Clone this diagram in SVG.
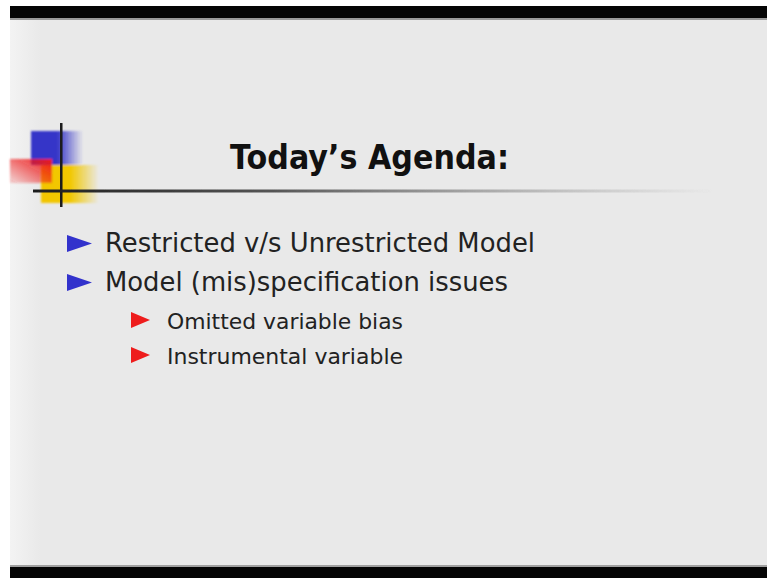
<svg xmlns="http://www.w3.org/2000/svg" width="767" height="578" viewBox="0 0 767 578">
  <style>
    .title { font-family: "DejaVu Sans", Verdana, sans-serif; font-weight: bold; fill: #111; }
    .l1 { font-family: "DejaVu Sans", Verdana, sans-serif; font-size: 26px; fill: #222; }
    .l2 { font-family: "DejaVu Sans", Verdana, sans-serif; font-size: 22px; fill: #222; }
    .b1 { fill: #3232cc; }
    .b2 { fill: #ee1c1c; }
  </style>
  <defs>
    <linearGradient id="blueFade" x1="0" y1="0" x2="1" y2="0">
      <stop offset="0" stop-color="#3434c8"/>
      <stop offset="0.5" stop-color="#3434c8"/>
      <stop offset="1" stop-color="#3434c8" stop-opacity="0"/>
    </linearGradient>
    <linearGradient id="yellowFade" x1="0" y1="0" x2="1" y2="0">
      <stop offset="0" stop-color="#f2c500"/>
      <stop offset="0.5" stop-color="#f2c800"/>
      <stop offset="1" stop-color="#f2c800" stop-opacity="0"/>
    </linearGradient>
    <linearGradient id="redFade" x1="1" y1="0" x2="0" y2="1">
      <stop offset="0" stop-color="#f01818"/>
      <stop offset="1" stop-color="#f01818" stop-opacity="0.15"/>
    </linearGradient>
    <linearGradient id="ruleFade" x1="0" y1="0" x2="1" y2="0">
      <stop offset="0" stop-color="#1e1e1e"/>
      <stop offset="0.35" stop-color="#555"/>
      <stop offset="1" stop-color="#888" stop-opacity="0"/>
    </linearGradient>
    <linearGradient id="edge" x1="0" y1="0" x2="1" y2="0">
      <stop offset="0" stop-color="#f3f3f3"/>
      <stop offset="1" stop-color="#e9e9e9"/>
    </linearGradient>
    <filter id="soft" x="-20%" y="-20%" width="140%" height="140%">
      <feGaussianBlur stdDeviation="1.2"/>
    </filter>
    <filter id="softLine" x="-5%" y="-200%" width="110%" height="500%">
      <feGaussianBlur stdDeviation="0.7"/>
    </filter>
  </defs>

  <!-- frame -->
  <rect x="0" y="0" width="767" height="578" fill="#ffffff"/>
  <rect x="10" y="6" width="757" height="572" fill="#e9e9e9"/>
  <rect x="10" y="19" width="30" height="548" fill="url(#edge)"/>
  <rect x="10" y="6" width="757" height="12" fill="#050505"/>
  <rect x="10" y="18" width="757" height="2" fill="#9a9a9a"/>
  <rect x="10" y="565" width="757" height="2" fill="#a0a0a0"/>
  <rect x="10" y="567" width="757" height="11" fill="#050505"/>

  <!-- corner logo -->
  <g id="logo">
    <g filter="url(#soft)">
      <rect x="31" y="131" width="52" height="34" fill="url(#blueFade)"/>
      <rect x="41" y="165" width="58" height="38" fill="url(#yellowFade)"/>
      <rect x="10" y="159" width="42" height="24" fill="url(#redFade)"/>
    </g>
    <rect x="60" y="123" width="2.5" height="84" fill="#1a1a1a" filter="url(#softLine)"/>
  </g>

  <!-- title rule -->
  <rect id="rule" x="33" y="189.5" width="680" height="3" fill="url(#ruleFade)" filter="url(#softLine)"/>

  <!-- title -->
  <g id="title">
    <text class="title" x="230" y="169" font-size="33" textLength="279" lengthAdjust="spacingAndGlyphs">Today’s Agenda:</text>
  </g>

  <!-- bullet list -->
  <g id="item1">
    <polygon class="b1" points="67,235 92,243.5 67,252"/>
    <text class="l1" x="105" y="252" textLength="430" lengthAdjust="spacingAndGlyphs">Restricted v/s Unrestricted Model</text>
  </g>
  <g id="item2">
    <polygon class="b1" points="67,274 92,282.5 67,291"/>
    <text class="l1" x="105" y="291" textLength="403" lengthAdjust="spacingAndGlyphs">Model (mis)specification issues</text>
  </g>
  <g id="item2a">
    <polygon class="b2" points="131,312 150,320 131,328"/>
    <text class="l2" x="167" y="328.5" textLength="236" lengthAdjust="spacingAndGlyphs">Omitted variable bias</text>
  </g>
  <g id="item2b">
    <polygon class="b2" points="131,347 150,355 131,363"/>
    <text class="l2" x="167" y="363.5" textLength="236" lengthAdjust="spacingAndGlyphs">Instrumental variable</text>
  </g>
</svg>
